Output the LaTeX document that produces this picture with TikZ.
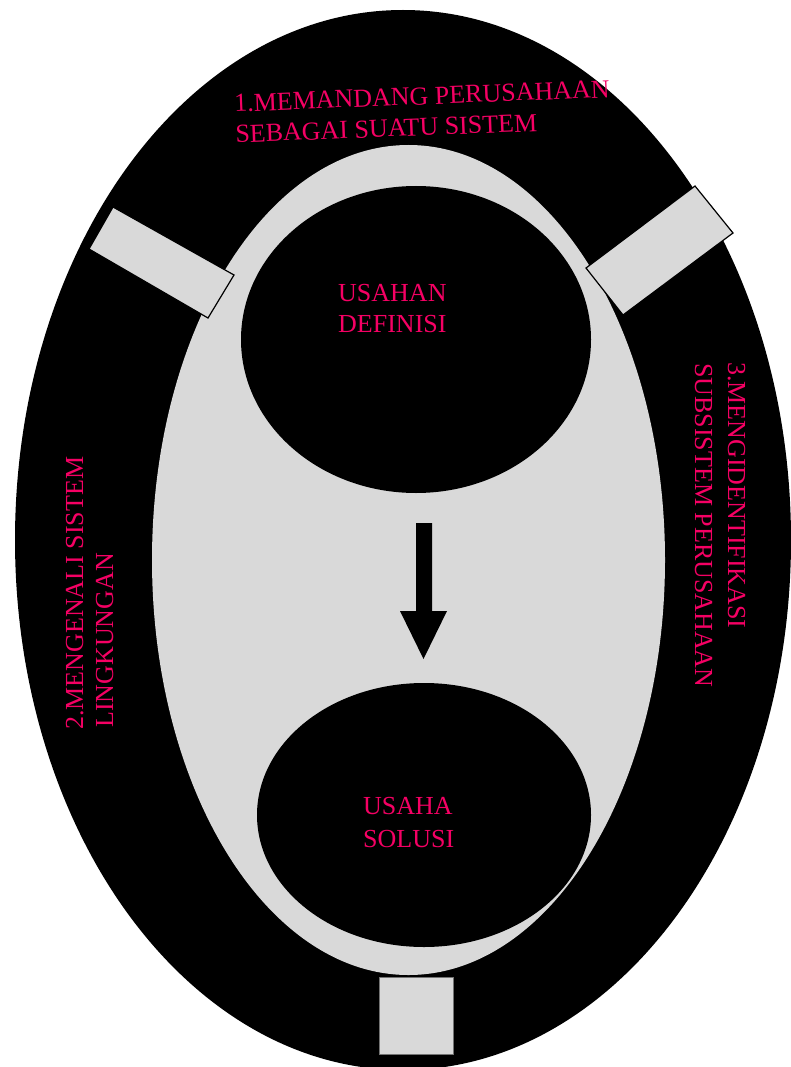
\documentclass[tikz,border=0pt]{standalone}
\usepackage{fontspec}
\setmainfont{Liberation Serif}
\definecolor{pinktxt}{RGB}{245,0,100}
\definecolor{lgray}{RGB}{217,217,217}
\begin{document}
\begin{tikzpicture}[x=1pt,y=-1pt,
  lbl/.style={text=pinktxt, inner sep=0pt, font=\fontsize{26}{31}\selectfont},
  ilbl/.style={lbl, font=\fontsize{26}{31}\selectfont},
  tab/.style={fill=lgray, draw=black, line width=1.2pt, line join=miter}]
\useasboundingbox (0,0) rectangle (790,1067);
% outer ring
\fill[black] (403,540) ellipse [x radius=388pt, y radius=530pt];
\fill[lgray] (408.5,560) ellipse [x radius=256.5pt, y radius=415pt];
% inner ellipses
\fill[black] (416,339.5) ellipse [x radius=175pt, y radius=153.5pt];
\fill[black] (424,815) ellipse [x radius=167pt, y radius=132pt];
% arrow
\fill[black] (416,523) -- (432,523) -- (432,611) -- (447,611) -- (423.5,659) -- (400,611) -- (416,611) -- cycle;
% tabs
\filldraw[tab] (113,207) -- (234,275) -- (208,318) -- (89,249) -- cycle;
\filldraw[tab] (695,186) -- (733,233) -- (623,315) -- (586,268) -- cycle;
\filldraw[fill=lgray, draw=black!55, line width=0.6pt] (379,977) rectangle (453,1054);
% texts
\node[lbl, align=left, anchor=north west, rotate=2.2] (t1) at (233.7,94.4) {1.MEMANDANG PERUSAHAAN\\SEBAGAI SUATU SISTEM};
\node[lbl, anchor=base west, rotate=90] (t2a) at (83,730) {2.MENGENALI SISTEM};
\node[lbl, anchor=base west, rotate=90] (t2b) at (113,728) {LINGKUNGAN};
\node[lbl, anchor=base west, rotate=-90] (t3a) at (728,362) {3.MENGIDENTIFIKASI};
\node[lbl, anchor=base west, rotate=-90] (t3b) at (695,363) {SUBSISTEM PERUSAHAAN};
\node[ilbl, anchor=base west] (d1) at (338,301) {USAHAN};
\node[ilbl, anchor=base west] (d2) at (338,332) {DEFINISI};
\node[ilbl, anchor=base west] (s1) at (363,814) {USAHA};
\node[ilbl, anchor=base west] (s2) at (363,847) {SOLUSI};
\end{tikzpicture}
\end{document}
